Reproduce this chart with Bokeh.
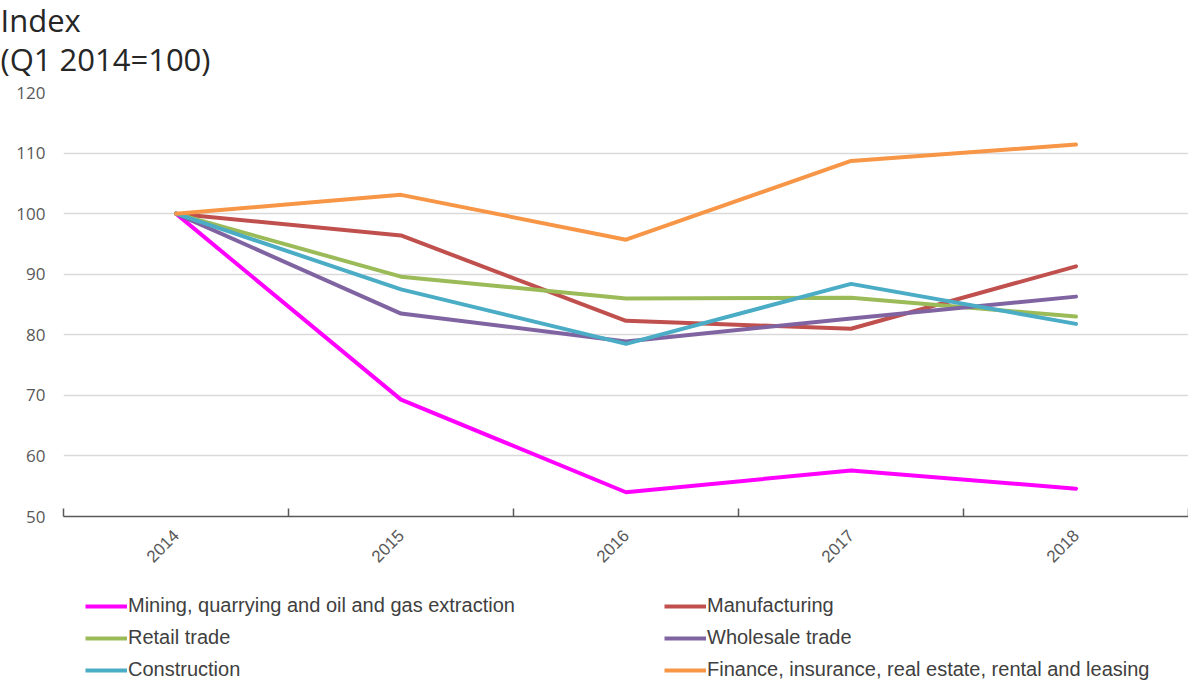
import math
from bokeh.plotting import figure
from bokeh.layouts import column
from bokeh.models import (FixedTicker, Legend, LegendItem, Title, Range1d)
from bokeh.embed import file_html
from bokeh.resources import INLINE

# Index values (Q1 2014 = 100) by industry
years = ["2014", "2015", "2016", "2017", "2018"]
mining = [100, 69.3, 54.0, 57.6, 54.6]
manufacturing = [100, 96.4, 82.3, 81.0, 91.3]
retail = [100, 89.6, 86.0, 86.1, 83.0]
wholesale = [100, 83.5, 78.9, 82.7, 86.3]
construction = [100, 87.5, 78.5, 88.4, 81.8]
finance = [100, 103.1, 95.7, 108.7, 111.4]
y_ticks = [50, 60, 70, 80, 90, 100, 110, 120]

series = [
    ("Mining, quarrying and oil and gas extraction", mining, "#ff00ff"),
    ("Manufacturing", manufacturing, "#c0504d"),
    ("Retail trade", retail, "#9bbb59"),
    ("Wholesale trade", wholesale, "#8064a2"),
    ("Construction", construction, "#4bacc6"),
    ("Finance, insurance, real estate, rental and leasing", finance, "#f79646"),
]

xs = list(range(len(years)))
LIFT = 17          # page is pulled up so the title sits near the top edge
MAIN_H = 580 + LIFT
LEGEND_H = 101

p = figure(width=1188, height=MAIN_H, output_backend="svg",
           toolbar_location=None,
           x_range=Range1d(-0.5, len(years) - 0.5), y_range=Range1d(50, 120),
           min_border_left=63, min_border_right=0, min_border_top=92 + LIFT,
           min_border_bottom=64)
p.outline_line_color = None
p.background_fill_color = "white"
p.border_fill_color = "white"

title = Title(text="Index\n(Q1 2014=100)", text_font="Open Sans",
              text_font_size="31px", text_font_style="normal",
              text_line_height=0.92,
              text_color="#262626", align="left", offset=-63, standoff=25)
p.add_layout(title, "above")
p.title.visible = False

for name, vals, color in series:
    p.line(xs, vals, line_color=color, line_width=4, line_join="round",
           line_cap="round")

# x axis: labels at category centres, small inward ticks between categories
xa = p.xaxis[0]
xa.ticker = FixedTicker(ticks=xs,
                        minor_ticks=[i - 0.5 for i in range(len(years) + 1)])
xa.major_label_overrides = {i: y for i, y in enumerate(years)}
xa.major_label_orientation = math.pi / 4
xa.major_tick_in = 0
xa.major_tick_out = 0
xa.minor_tick_in = 8
xa.minor_tick_out = 0
xa.minor_tick_line_color = "#595959"
xa.minor_tick_line_width = 1.5
xa.axis_line_color = "#595959"
xa.axis_line_width = 1.5
xa.major_label_text_font = "Liberation Sans"
xa.major_label_text_font_size = "17px"
xa.major_label_text_color = "#595959"
xa.major_label_standoff = 16

ya = p.yaxis[0]
ya.ticker = FixedTicker(ticks=y_ticks)
ya.axis_line_color = None
ya.major_tick_line_color = None
ya.minor_tick_line_color = None
ya.major_label_text_font = "Open Sans"
ya.major_label_text_font_size = "17px"
ya.major_label_text_color = "#595959"
ya.major_label_standoff = 12

p.xgrid.grid_line_color = None
p.ygrid.ticker = FixedTicker(ticks=y_ticks)
p.ygrid.grid_line_color = "#d9d9d9"
p.ygrid.grid_line_width = 1.5

# legend strip below the chart; its ranges keep the series lines out of view
lf = figure(width=1188, height=LEGEND_H, output_backend="svg",
            toolbar_location=None, x_axis_type=None, y_axis_type=None,
            x_range=Range1d(0, 1), y_range=Range1d(0, 1),
            min_border=0)
lf.outline_line_color = None
lf.grid.grid_line_color = None
swatch = {}
for name, vals, color in series:
    swatch[name] = lf.line(xs, vals, line_color=color, line_width=4)

# two columns, filled column by column
order = [0, 2, 4, 1, 3, 5]
items = [LegendItem(label=series[i][0], renderers=[swatch[series[i][0]]])
         for i in order]
legend = Legend(items=items, ncols=2, location=(22, 0),
                glyph_width=42, glyph_height=20, label_height=20,
                label_standoff=1, spacing=9, padding=0, margin=0,
                label_width=527,
                label_text_font="Liberation Sans",
                label_text_font_size="20px", label_text_color="#404040",
                border_line_color=None, background_fill_alpha=0)
lf.add_layout(legend, "center")

layout = column(p, lf, spacing=0, margin=(-LIFT, 0, 0, 0))
open("out.html", "w").write(file_html(layout, INLINE))
